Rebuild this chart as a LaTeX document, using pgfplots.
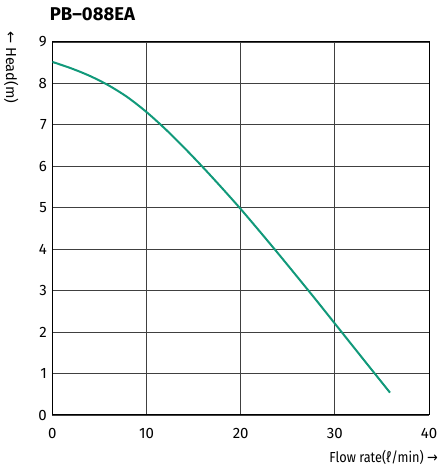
\documentclass[border=0pt]{standalone}
\usepackage{fontspec}
\setmainfont{Fira Sans}
\newfontfamily\symfont{DejaVu Sans}
\usepackage{pgfplots}
\pgfplotsset{compat=1.18}
\definecolor{curve}{HTML}{11997A}
\begin{document}
\begin{tikzpicture}
\useasboundingbox (-52.3pt,-53pt) rectangle (388.7pt,415pt);
\begin{axis}[
  scale only axis,
  width=376.8pt, height=373pt,
  xmin=0, xmax=40, ymin=0, ymax=9,
  xtick={0,10,20,30,40}, ytick={0,1,...,9},
  grid=major,
  major grid style={black!75, line width=0.8pt},
  axis line style={black, line width=1pt},
  tick style={draw=none},
  ticklabel style={font=\fontsize{15}{17}\selectfont},
  /pgf/number format/assume math mode=true,
  xticklabel style={yshift=-10pt},
  yticklabel style={xshift=-2pt},
]
\addplot[curve, line width=2pt, smooth, tension=0.5] coordinates {
(0,8.52) (2,8.365) (4,8.18) (6,7.95) (8,7.665) (10,7.31) (12,6.90) (14,6.45)
(16,5.975) (18,5.48) (20,4.97) (22,4.435) (24,3.89) (26,3.335) (28,2.775)
(30,2.205) (32,1.635) (34,1.065) (35.85,0.54)};
\end{axis}
\node[anchor=west, font=\fontsize{18.5}{20}\selectfont\bfseries] at (-6pt,401pt) {PB–088EA};
\node[anchor=west, rotate=-90, font=\fontsize{14.5}{16}\selectfont, inner sep=0pt] at (-41pt,384pt) {{\symfont ←} Head(m)};
\node[anchor=east, font=\fontsize{14.5}{16}\selectfont, inner sep=0pt] at (385.7pt,-42pt) {\scalebox{0.88}[1]{Flow rate(ℓ/min) {\symfont →}}};
\end{tikzpicture}
\end{document}
